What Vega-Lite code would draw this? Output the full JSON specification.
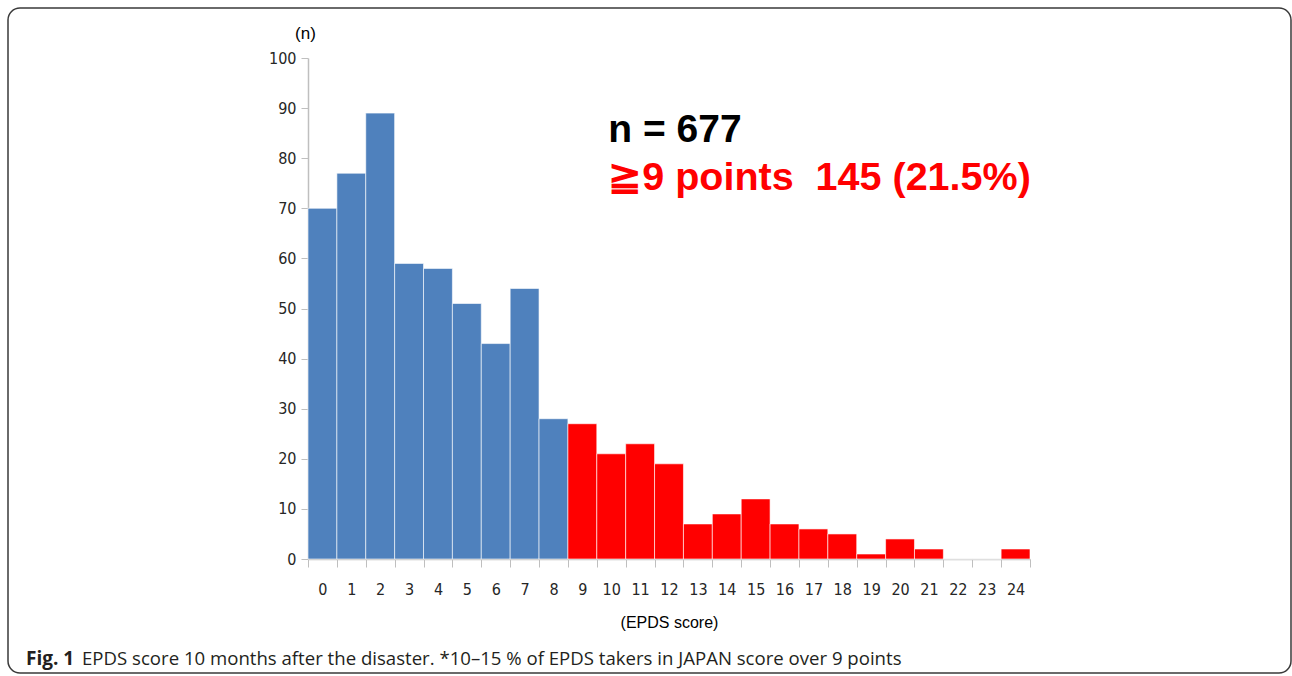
{
  "$schema": "https://vega.github.io/schema/vega-lite/v6.json",
  "width": 1283,
  "height": 665,
  "autosize": {"type": "none"},
  "padding": {"left": 8, "top": 8, "right": 1, "bottom": 3},
  "background": "white",
  "config": {"view": {"stroke": "#3a3a3a", "strokeWidth": 1.5, "cornerRadius": 12}},
  "data": {"values": [
    {"score": 0, "n": 70}, {"score": 1, "n": 77}, {"score": 2, "n": 89},
    {"score": 3, "n": 59}, {"score": 4, "n": 58}, {"score": 5, "n": 51},
    {"score": 6, "n": 43}, {"score": 7, "n": 54}, {"score": 8, "n": 28},
    {"score": 9, "n": 27}, {"score": 10, "n": 21}, {"score": 11, "n": 23},
    {"score": 12, "n": 19}, {"score": 13, "n": 7}, {"score": 14, "n": 9},
    {"score": 15, "n": 12}, {"score": 16, "n": 7}, {"score": 17, "n": 6},
    {"score": 18, "n": 5}, {"score": 19, "n": 1}, {"score": 20, "n": 4},
    {"score": 21, "n": 2}, {"score": 22, "n": 0}, {"score": 23, "n": 0},
    {"score": 24, "n": 2}
  ]},
  "layer": [
    {
      "mark": {"type": "bar", "stroke": "white", "strokeOpacity": 0.6, "strokeWidth": 1},
      "encoding": {
        "x": {
          "field": "score", "type": "ordinal",
          "scale": {"paddingInner": 0, "paddingOuter": 0, "range": [300, 1022]},
          "axis": {
            "offset": -114,
            "domain": true,
            "title": "(EPDS score)",
            "titleFont": "Liberation Sans", "titleFontSize": 16, "titleFontWeight": "normal", "titleColor": "#000000",
            "titlePadding": 17,
            "labelAngle": 0, "labelFont": "Liberation Sans Narrow, DejaVu Sans Condensed, sans-serif",
            "labelFontSize": 16, "labelColor": "#262626", "labelPadding": 14,
            "tickBand": "extent", "tickSize": 8, "tickColor": "#bfbfbf", "domainColor": "#bfbfbf", "domainWidth": 1.5
          }
        },
        "y": {
          "field": "n", "type": "quantitative",
          "scale": {"domain": [0, 100], "nice": false, "range": [551, 50]},
          "axis": {
            "offset": -300,
            "values": [0, 10, 20, 30, 40, 50, 60, 70, 80, 90, 100],
            "grid": false,
            "title": "(n)", "titleAngle": 0, "titleAlign": "center", "titleBaseline": "alphabetic",
            "titleX": -3, "titleY": 30,
            "titleFont": "Liberation Sans", "titleFontSize": 17, "titleFontWeight": "normal", "titleColor": "#000000",
            "labelFont": "Liberation Sans Narrow, DejaVu Sans Condensed, sans-serif",
            "labelFontSize": 16, "labelColor": "#262626", "labelPadding": 5,
            "tickSize": 7, "tickColor": "#bfbfbf", "domainColor": "#bfbfbf", "domainWidth": 1.5
          }
        },
        "color": {"condition": {"test": "datum.score >= 9", "value": "#FF0000"}, "value": "#4F81BD"}
      }
    },
    {
      "data": {"values": [{"label": "n = 677"}]},
      "mark": {"type": "text", "align": "left", "baseline": "alphabetic", "font": "Liberation Sans", "fontWeight": "bold", "fontSize": 39, "color": "#000000", "dx": -3},
      "encoding": {
        "x": {"datum": 10, "type": "ordinal"},
        "y": {"datum": 83.3, "type": "quantitative"},
        "text": {"field": "label"}
      }
    },
    {
      "data": {"values": [{"label": "≧9 points \u00a0145 (21.5%)"}]},
      "mark": {"type": "text", "align": "left", "baseline": "alphabetic", "font": "Liberation Sans", "fontWeight": "bold", "fontSize": 39.5, "color": "#FF0000", "dx": -3},
      "encoding": {
        "x": {"datum": 10, "type": "ordinal"},
        "y": {"datum": 73.65, "type": "quantitative"},
        "text": {"field": "label"}
      }
    },
    {
      "data": {"values": [{"label": "Fig. 1"}]},
      "mark": {"type": "text", "align": "left", "baseline": "alphabetic", "font": "Open Sans", "fontWeight": "bold", "fontSize": 19, "color": "#231f20", "dx": -296.4},
      "encoding": {
        "x": {"datum": 0, "type": "ordinal"},
        "y": {"datum": -21.2, "type": "quantitative"},
        "text": {"field": "label"}
      }
    },
    {
      "data": {"values": [{"label": "EPDS score 10 months after the disaster. *10–15 % of EPDS takers in JAPAN score over 9 points"}]},
      "mark": {"type": "text", "align": "left", "baseline": "alphabetic", "font": "Open Sans", "fontWeight": "normal", "fontSize": 18.6, "color": "#231f20", "dx": -240.4},
      "encoding": {
        "x": {"datum": 0, "type": "ordinal"},
        "y": {"datum": -21.2, "type": "quantitative"},
        "text": {"field": "label"}
      }
    }
  ]
}
